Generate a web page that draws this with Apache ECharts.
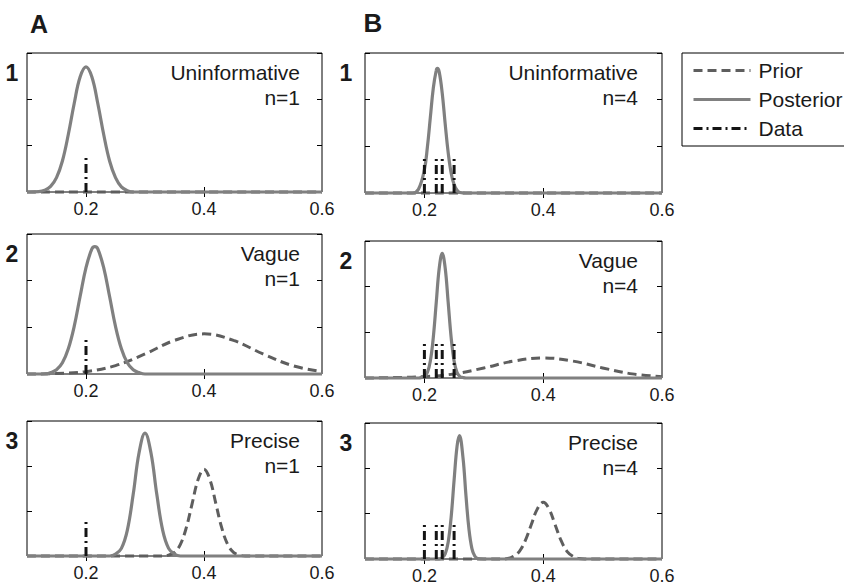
<!DOCTYPE html>
<html>
<head>
<meta charset="utf-8">
<title>Prior / Posterior</title>
<script src="https://cdn.jsdelivr.net/npm/echarts@6/dist/echarts.min.js"></script>
<style>
html, body { margin: 0; padding: 0; background: #fff; }
#echarts { width: 844px; height: 585px; }
</style>
</head>
<body>
<div id="echarts"></div>
<script>
// x 轴刻度
var xTicks = [0.2, 0.4];
var xTickLabels = [0.2, 0.4, 0.6];

// 观测数据 (竖线)
var dataA = [0.2];
var dataB = [0.2, 0.22, 0.23, 0.25];
var dataHeight = 0.8;

// 先验
var priorA1 = [[0.10, 0], [0.60, 0]];
var priorB1 = [[0.10, 0], [0.60, 0]];
var priorA2 = [[0.10, 0], [0.15, 0.01], [0.20, 0.05], [0.25, 0.18], [0.30, 0.43], [0.35, 0.72], [0.40, 0.86],
    [0.45, 0.72], [0.50, 0.43], [0.55, 0.18], [0.60, 0.05]];
var priorB2 = [[0.10, 0], [0.15, 0.01], [0.20, 0.03], [0.25, 0.09], [0.30, 0.22], [0.35, 0.37], [0.40, 0.44],
    [0.45, 0.37], [0.50, 0.22], [0.55, 0.09], [0.60, 0.03]];
var priorA3 = [[0.10, 0], [0.33, 0], [0.34, 0.02], [0.35, 0.08], [0.36, 0.26], [0.37, 0.63], [0.38, 1.17],
    [0.39, 1.70], [0.40, 1.93], [0.41, 1.70], [0.42, 1.17], [0.43, 0.63], [0.44, 0.26], [0.45, 0.08],
    [0.46, 0.02], [0.47, 0], [0.60, 0]];
var priorB3 = [[0.10, 0], [0.33, 0], [0.34, 0.01], [0.35, 0.06], [0.36, 0.17], [0.37, 0.41], [0.38, 0.76],
    [0.39, 1.10], [0.40, 1.25], [0.41, 1.10], [0.42, 0.76], [0.43, 0.41], [0.44, 0.17], [0.45, 0.06],
    [0.46, 0.01], [0.47, 0], [0.60, 0]];

// 后验
var postA1 = [[0.10, 0], [0.12, 0.01], [0.13, 0.04], [0.14, 0.12], [0.15, 0.31], [0.16, 0.67], [0.17, 1.24],
    [0.18, 1.91], [0.19, 2.48], [0.20, 2.70], [0.21, 2.48], [0.22, 1.91], [0.23, 1.24], [0.24, 0.67],
    [0.25, 0.31], [0.26, 0.11], [0.27, 0.03], [0.28, 0], [0.60, 0]];
var postB1 = [[0.10, 0], [0.18, 0], [0.19, 0.08], [0.20, 0.50], [0.205, 0.98], [0.21, 1.62], [0.215, 2.25],
    [0.22, 2.63], [0.222, 2.67], [0.225, 2.59], [0.23, 2.14], [0.235, 1.48], [0.24, 0.87], [0.245, 0.43],
    [0.25, 0.18], [0.255, 0.06], [0.26, 0.01], [0.27, 0], [0.60, 0]];
var postA2 = [[0.10, 0], [0.13, 0], [0.14, 0.03], [0.15, 0.09], [0.16, 0.24], [0.17, 0.54], [0.18, 1.02],
    [0.19, 1.66], [0.20, 2.28], [0.21, 2.68], [0.215, 2.73], [0.22, 2.68], [0.23, 2.28], [0.24, 1.66],
    [0.25, 1.02], [0.26, 0.54], [0.27, 0.24], [0.28, 0.09], [0.29, 0.03], [0.30, 0], [0.60, 0]];
var postB2 = [[0.10, 0], [0.19, 0], [0.195, 0.01], [0.20, 0.03], [0.205, 0.12], [0.21, 0.37], [0.215, 0.89],
    [0.22, 1.66], [0.225, 2.41], [0.23, 2.73], [0.235, 2.41], [0.24, 1.66], [0.245, 0.89], [0.25, 0.37],
    [0.255, 0.12], [0.26, 0.03], [0.265, 0.01], [0.27, 0], [0.60, 0]];
var postA3 = [[0.10, 0], [0.24, 0], [0.25, 0.04], [0.26, 0.17], [0.27, 0.57], [0.28, 1.37], [0.29, 2.30],
    [0.30, 2.73], [0.31, 2.30], [0.32, 1.37], [0.33, 0.57], [0.34, 0.17], [0.35, 0.04], [0.36, 0], [0.60, 0]];
var postB3 = [[0.10, 0], [0.225, 0], [0.23, 0.03], [0.235, 0.11], [0.24, 0.37], [0.245, 0.92], [0.25, 1.74],
    [0.255, 2.49], [0.259, 2.72], [0.265, 2.23], [0.27, 1.39], [0.275, 0.66], [0.28, 0.23], [0.285, 0.06],
    [0.29, 0.01], [0.30, 0], [0.60, 0]];

var FONT = 'Liberation Sans, Arial, Helvetica, sans-serif';

// 六个子图
var panels = [
    {left: 27, top: 53, width: 295, height: 139, prior: priorA1, post: postA1, marks: dataA,
        row: '1', label: 'Uninformative', n: 'n=1'},
    {left: 365, top: 53, width: 297, height: 140, prior: priorB1, post: postB1, marks: dataB,
        row: '1', label: 'Uninformative', n: 'n=4'},
    {left: 27, top: 234, width: 295, height: 140, prior: priorA2, post: postA2, marks: dataA,
        row: '2', label: 'Vague', n: 'n=1'},
    {left: 365, top: 241, width: 297, height: 137, prior: priorB2, post: postB2, marks: dataB,
        row: '2', label: 'Vague', n: 'n=4'},
    {left: 27, top: 421, width: 295, height: 135, prior: priorA3, post: postA3, marks: dataA,
        row: '3', label: 'Precise', n: 'n=1'},
    {left: 365, top: 423, width: 297, height: 138, prior: priorB3, post: postB3, marks: dataB,
        row: '3', label: 'Precise', n: 'n=4'}
];

var myChart;
initPlugin();

function initPlugin() {
    myChart = echarts.init(document.getElementById('echarts'), null, {renderer: 'svg'});
    myChart.setOption(getOptions(), true);
}

function textEl(text, x, y, size, weight, align) {
    return {
        type: 'text',
        x: x,
        y: y,
        style: {
            text: text,
            fill: '#1a1a1a',
            fontSize: size,
            fontWeight: weight,
            fontFamily: FONT,
            textAlign: align,
            textVerticalAlign: 'middle',
            align: align,
            verticalAlign: 'middle'
        }
    };
}

function getOptions() {
    var grid = [], xAxis = [], yAxis = [], series = [], graphic = [];

    graphic.push(textEl('A', 39, 24, 25, 'bold', 'center'));
    graphic.push(textEl('B', 373, 23, 26, 'bold', 'center'));

    panels.forEach(function(p, i) {
        grid.push({
            left: p.left, top: p.top, width: p.width, height: p.height,
            show: true, borderColor: '#000', borderWidth: 1,
            backgroundColor: 'transparent'
        });
        // 下方 x 轴
        xAxis.push({
            gridIndex: i, type: 'value', min: 0.1, max: 0.6, position: 'bottom',
            axisLine: {show: false},
            splitLine: {show: false},
            axisTick: {show: true, inside: true, length: 5, customValues: xTicks,
                lineStyle: {color: '#000'}},
            axisLabel: {show: true, customValues: xTickLabels, margin: 8,
                color: '#1a1a1a', fontSize: 18, fontFamily: FONT,
                formatter: function(v) { return v.toFixed(1); }}
        });
        // 上方 x 轴 (只有刻度)
        xAxis.push({
            gridIndex: i, type: 'value', min: 0.1, max: 0.6, position: 'top',
            axisLine: {show: false},
            splitLine: {show: false},
            axisTick: {show: true, inside: true, length: 5, customValues: xTicks,
                lineStyle: {color: '#000'}},
            axisLabel: {show: false}
        });
        yAxis.push({
            gridIndex: i, type: 'value', min: 0, max: 3, interval: 1, position: 'left',
            axisLine: {show: false}, splitLine: {show: false}, axisLabel: {show: false},
            axisTick: {show: true, inside: true, length: 5, lineStyle: {color: '#000'}}
        });
        yAxis.push({
            gridIndex: i, type: 'value', min: 0, max: 3, interval: 1, position: 'right',
            axisLine: {show: false}, splitLine: {show: false}, axisLabel: {show: false},
            axisTick: {show: true, inside: true, length: 5, lineStyle: {color: '#000'}}
        });

        series.push({
            name: 'Prior', type: 'line', xAxisIndex: 2 * i, yAxisIndex: 2 * i,
            data: p.prior, symbol: 'none', smooth: 0.4, clip: false,
            itemStyle: {color: '#5e5e5e'},
            lineStyle: {color: '#5e5e5e', width: 3, type: [9, 5]}
        });
        series.push({
            name: 'Posterior', type: 'line', xAxisIndex: 2 * i, yAxisIndex: 2 * i,
            data: p.post, symbol: 'none', smooth: 0.4, clip: false,
            itemStyle: {color: '#808080'},
            lineStyle: {color: '#808080', width: 3.2}
        });
        p.marks.forEach(function(x) {
            series.push({
                name: 'Data', type: 'line', xAxisIndex: 2 * i, yAxisIndex: 2 * i,
                data: [[x, 0], [x, dataHeight]], symbol: 'none', clip: false,
                itemStyle: {color: '#141414'},
                lineStyle: {color: '#141414', width: 3, type: [9, 4, 2, 4]}
            });
        });

        var isA = p.left < 100;
        var rightX = isA ? 300 : 638;
        graphic.push(textEl(p.row, isA ? 12 : 346, p.top + 20, 23, 'bold', 'center'));
        graphic.push(textEl(p.label, rightX, p.top + 19.5, 21, 'normal', 'right'));
        graphic.push(textEl(p.n, rightX, p.top + 44, 21, 'normal', 'right'));
    });

    var option = {
        backgroundColor: '#fff',
        animation: false,
        legend: {
            orient: 'vertical',
            left: 682,
            top: 53,
            padding: [7, 4, 7, 10],
            itemWidth: 57,
            itemHeight: 21,
            itemGap: 8,
            borderColor: '#000',
            borderWidth: 1,
            borderRadius: 0,
            selectedMode: false,
            itemStyle: {color: 'rgba(0,0,0,0)', borderColor: 'rgba(0,0,0,0)', borderWidth: 0, opacity: 0},
            lineStyle: {width: 3},
            textStyle: {color: '#1a1a1a', fontSize: 21, fontFamily: FONT, lineHeight: 21,
                padding: [0, 0, 0, 3]},
            data: ['Prior', 'Posterior', 'Data']
        },
        grid: grid,
        xAxis: xAxis,
        yAxis: yAxis,
        series: series,
        graphic: graphic
    };
    return option;
}
</script>
</body>
</html>
